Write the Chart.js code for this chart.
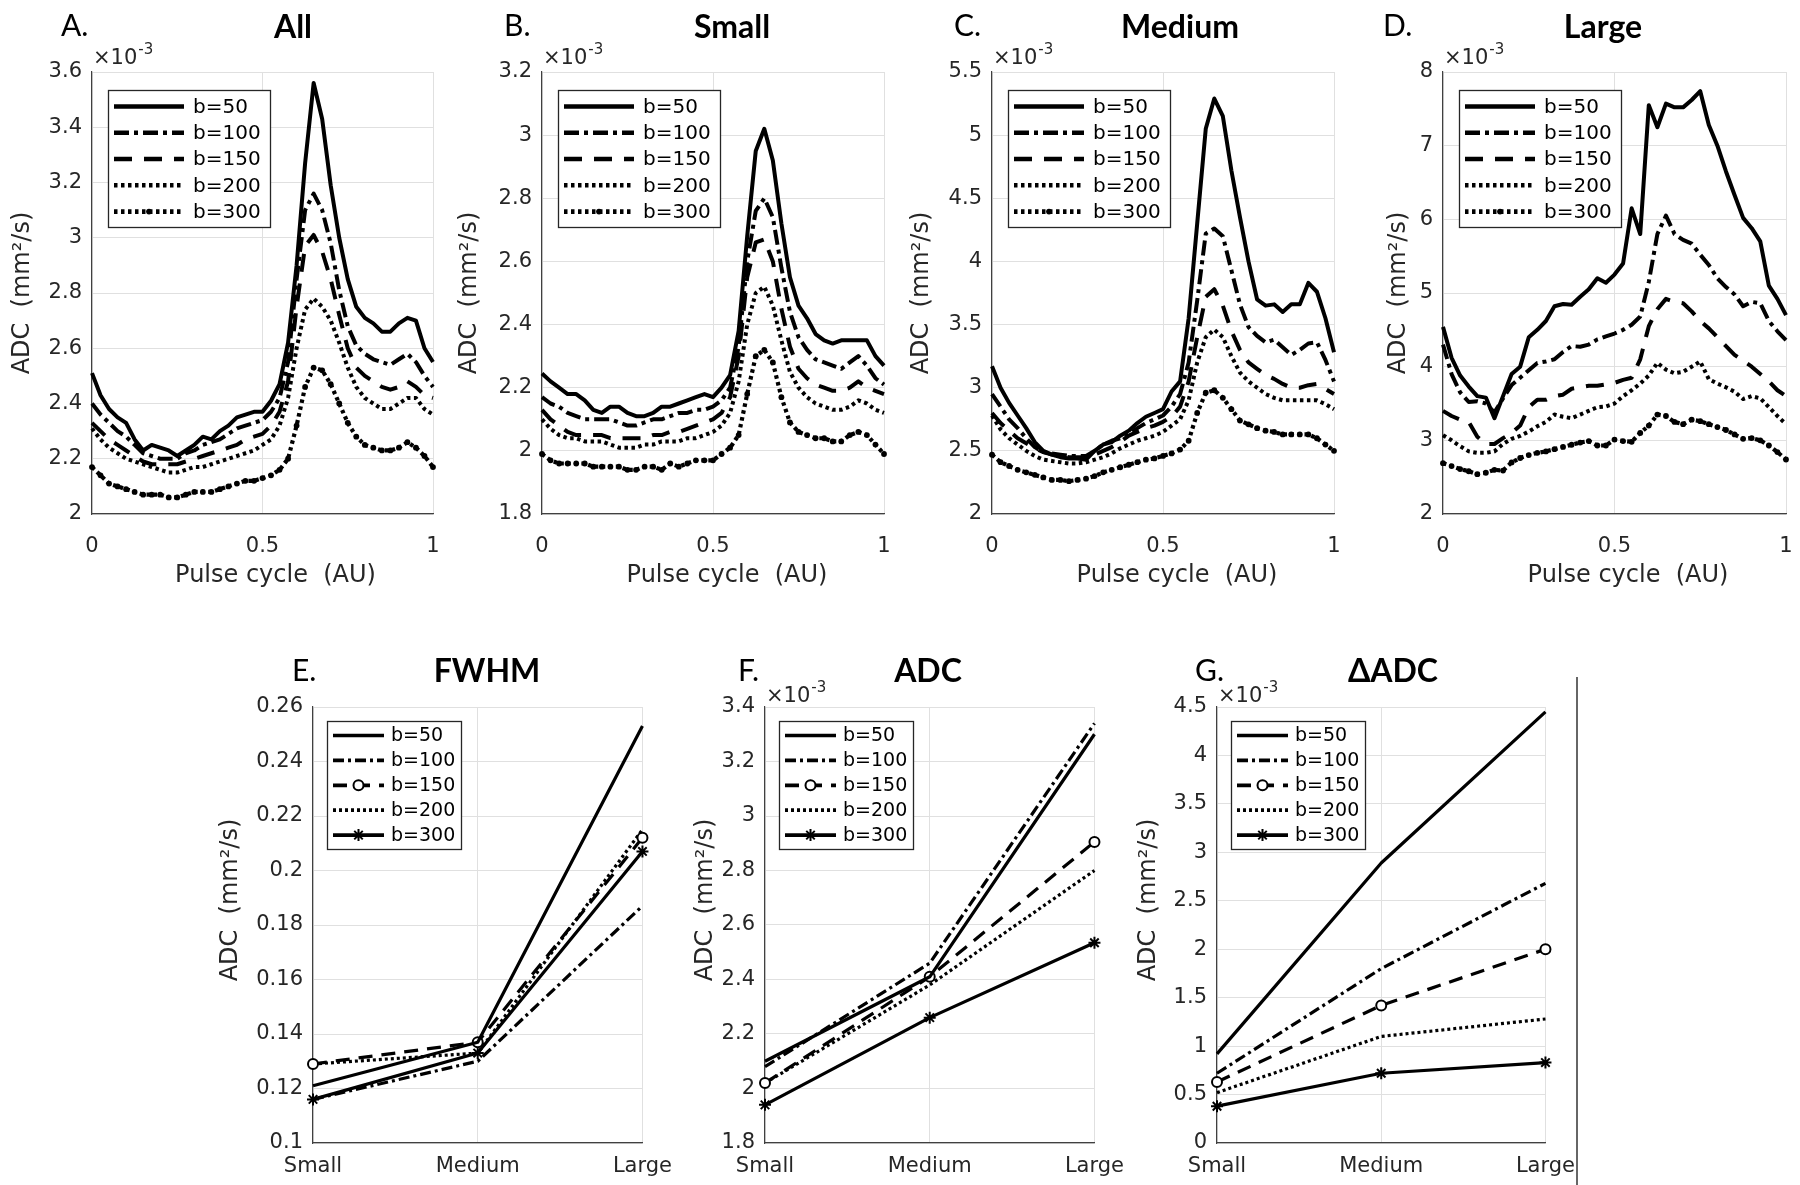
<!DOCTYPE html>
<html><head><meta charset="utf-8">
<script src="https://cdn.jsdelivr.net/npm/chart.js@4.4.1/dist/chart.umd.min.js"></script>
<style>
html,body{margin:0;padding:0;background:#fff;}
body{width:1800px;height:1185px;overflow:hidden;position:relative;}
canvas{position:absolute;}
</style></head><body>
<canvas id="cA"></canvas><canvas id="cB"></canvas><canvas id="cC"></canvas><canvas id="cD"></canvas>
<canvas id="cE"></canvas><canvas id="cF"></canvas><canvas id="cG"></canvas>
<script>
// ---------------- DATA ----------------
const bLabels = ['b=50','b=100','b=150','b=200','b=300'];
const pulse = [0,0.025,0.05,0.075,0.1,0.125,0.15,0.175,0.2,0.225,0.25,0.275,0.3,0.325,0.35,0.375,0.4,0.425,0.45,0.475,0.5,0.525,0.55,0.575,0.6,0.625,0.65,0.675,0.7,0.725,0.75,0.775,0.8,0.825,0.85,0.875,0.9,0.925,0.95,0.975,1];
const sizeCats = ['Small','Medium','Large'];

// Panel A: All (x10^-3 mm^2/s)
const all_b50  = [2.51,2.43,2.38,2.35,2.33,2.27,2.23,2.25,2.24,2.23,2.21,2.23,2.25,2.28,2.27,2.30,2.32,2.35,2.36,2.37,2.37,2.41,2.47,2.62,2.90,3.27,3.56,3.43,3.19,3.00,2.85,2.75,2.71,2.69,2.66,2.66,2.69,2.71,2.70,2.60,2.55];
const all_b100 = [2.40,2.36,2.33,2.30,2.28,2.25,2.22,2.21,2.20,2.20,2.20,2.22,2.23,2.25,2.26,2.27,2.29,2.31,2.32,2.33,2.34,2.37,2.42,2.55,2.85,3.10,3.16,3.10,2.98,2.81,2.68,2.61,2.58,2.56,2.55,2.54,2.56,2.58,2.55,2.50,2.46];
const all_b150 = [2.33,2.30,2.27,2.25,2.23,2.21,2.19,2.18,2.18,2.18,2.18,2.19,2.20,2.21,2.22,2.23,2.24,2.25,2.27,2.28,2.29,2.32,2.37,2.48,2.75,2.97,3.01,2.95,2.85,2.72,2.60,2.53,2.50,2.48,2.46,2.45,2.46,2.48,2.46,2.43,2.42];
const all_b200 = [2.31,2.27,2.24,2.22,2.20,2.19,2.18,2.17,2.16,2.15,2.15,2.16,2.17,2.17,2.18,2.19,2.20,2.21,2.22,2.23,2.25,2.27,2.32,2.42,2.60,2.74,2.78,2.75,2.70,2.62,2.53,2.46,2.42,2.40,2.38,2.38,2.40,2.42,2.42,2.38,2.36];
const all_b300 = [2.17,2.14,2.11,2.10,2.09,2.08,2.07,2.07,2.07,2.06,2.06,2.07,2.08,2.08,2.08,2.09,2.10,2.11,2.12,2.12,2.13,2.14,2.16,2.20,2.32,2.46,2.53,2.52,2.47,2.40,2.33,2.28,2.25,2.24,2.23,2.23,2.24,2.26,2.24,2.21,2.17];

// Panel B: Small
const small_b50  = [2.245,2.22,2.20,2.18,2.18,2.16,2.13,2.12,2.14,2.14,2.12,2.11,2.11,2.12,2.14,2.14,2.15,2.16,2.17,2.18,2.17,2.20,2.24,2.38,2.68,2.95,3.02,2.92,2.72,2.55,2.46,2.42,2.37,2.35,2.34,2.35,2.35,2.35,2.35,2.30,2.27];
const small_b100 = [2.17,2.15,2.14,2.12,2.11,2.10,2.10,2.10,2.10,2.09,2.08,2.08,2.09,2.10,2.10,2.11,2.12,2.12,2.13,2.13,2.14,2.16,2.20,2.33,2.60,2.76,2.80,2.74,2.58,2.44,2.36,2.32,2.29,2.28,2.27,2.26,2.28,2.30,2.27,2.23,2.21];
const small_b150 = [2.13,2.10,2.08,2.06,2.05,2.05,2.05,2.05,2.04,2.04,2.04,2.04,2.04,2.05,2.05,2.06,2.06,2.07,2.08,2.09,2.10,2.12,2.17,2.30,2.55,2.66,2.67,2.60,2.45,2.33,2.26,2.23,2.21,2.20,2.19,2.19,2.20,2.22,2.20,2.19,2.18];
const small_b200 = [2.10,2.07,2.05,2.04,2.04,2.03,2.03,2.03,2.02,2.01,2.01,2.01,2.02,2.02,2.03,2.03,2.03,2.04,2.04,2.05,2.06,2.08,2.12,2.22,2.40,2.50,2.52,2.46,2.35,2.25,2.20,2.17,2.15,2.14,2.13,2.13,2.14,2.16,2.15,2.13,2.12];
const small_b300 = [1.99,1.97,1.96,1.96,1.96,1.96,1.95,1.95,1.95,1.95,1.94,1.94,1.95,1.95,1.94,1.96,1.95,1.96,1.97,1.97,1.97,1.99,2.01,2.05,2.18,2.30,2.32,2.28,2.17,2.09,2.06,2.05,2.04,2.04,2.03,2.03,2.05,2.06,2.05,2.02,1.99];

// Panel C: Medium
const medium_b50  = [3.17,3.00,2.88,2.78,2.68,2.57,2.50,2.47,2.45,2.44,2.44,2.43,2.50,2.55,2.57,2.62,2.66,2.72,2.77,2.80,2.83,2.97,3.05,3.55,4.30,5.05,5.29,5.15,4.72,4.35,4.00,3.70,3.65,3.66,3.60,3.66,3.66,3.83,3.76,3.55,3.28];
const medium_b100 = [2.95,2.85,2.75,2.68,2.60,2.53,2.49,2.48,2.47,2.46,2.46,2.46,2.50,2.55,2.58,2.60,2.63,2.68,2.72,2.75,2.78,2.85,2.95,3.20,3.69,4.22,4.26,4.20,3.93,3.66,3.48,3.41,3.36,3.38,3.32,3.26,3.30,3.35,3.36,3.22,3.05];
const medium_b150 = [2.80,2.72,2.66,2.60,2.56,2.52,2.49,2.47,2.46,2.45,2.45,2.45,2.47,2.50,2.53,2.57,2.62,2.65,2.68,2.70,2.73,2.77,2.85,3.05,3.40,3.72,3.78,3.65,3.45,3.30,3.20,3.15,3.10,3.07,3.03,3.00,3.00,3.02,3.03,2.99,2.95];
const medium_b200 = [2.78,2.67,2.60,2.55,2.50,2.46,2.43,2.42,2.41,2.40,2.40,2.41,2.43,2.45,2.48,2.52,2.55,2.58,2.60,2.62,2.65,2.70,2.75,2.90,3.20,3.40,3.46,3.40,3.25,3.12,3.05,3.00,2.95,2.92,2.90,2.90,2.90,2.90,2.90,2.87,2.83];
const medium_b300 = [2.47,2.41,2.38,2.35,2.33,2.31,2.29,2.27,2.27,2.26,2.27,2.28,2.30,2.33,2.35,2.37,2.39,2.41,2.43,2.44,2.46,2.48,2.51,2.58,2.80,2.96,2.98,2.92,2.83,2.74,2.71,2.68,2.66,2.65,2.63,2.63,2.63,2.63,2.60,2.55,2.50];

// Panel D: Large
const large_b50  = [4.54,4.12,3.88,3.73,3.60,3.58,3.30,3.60,3.90,4.00,4.40,4.50,4.62,4.82,4.85,4.84,4.95,5.05,5.20,5.14,5.25,5.40,6.15,5.80,7.55,7.25,7.57,7.52,7.52,7.62,7.74,7.28,7.00,6.65,6.33,6.02,5.88,5.70,5.10,4.92,4.70];
const large_b100 = [4.30,3.90,3.65,3.52,3.53,3.50,3.38,3.57,3.75,3.85,3.95,4.05,4.07,4.10,4.20,4.28,4.27,4.30,4.37,4.41,4.45,4.50,4.57,4.68,5.15,5.80,6.05,5.80,5.72,5.67,5.52,5.38,5.20,5.08,4.98,4.82,4.88,4.86,4.62,4.48,4.36];
const large_b150 = [3.40,3.33,3.28,3.25,3.05,2.95,2.95,3.03,3.10,3.20,3.45,3.55,3.55,3.60,3.62,3.70,3.72,3.74,3.74,3.76,3.78,3.82,3.85,4.10,4.55,4.78,4.92,4.88,4.86,4.75,4.62,4.52,4.40,4.28,4.16,4.08,4.00,3.90,3.80,3.68,3.60];
const large_b200 = [3.07,3.00,2.92,2.85,2.83,2.83,2.85,2.95,3.02,3.06,3.12,3.19,3.25,3.35,3.32,3.30,3.35,3.40,3.45,3.46,3.50,3.60,3.68,3.77,3.88,4.05,3.96,3.91,3.93,4.00,4.07,3.83,3.77,3.72,3.66,3.56,3.60,3.57,3.45,3.33,3.22];
const large_b300 = [2.69,2.65,2.61,2.58,2.54,2.56,2.60,2.59,2.70,2.76,2.80,2.83,2.85,2.88,2.91,2.94,2.97,2.99,2.93,2.93,3.01,2.99,2.98,3.10,3.20,3.35,3.33,3.25,3.22,3.28,3.26,3.22,3.18,3.14,3.08,3.02,3.03,3.00,2.93,2.84,2.74];

// Panel E: FWHM (Small, Medium, Large)
const fwhm_b50  = [0.121,0.137,0.253];
const fwhm_b100 = [0.116,0.130,0.187];
const fwhm_b150 = [0.129,0.137,0.212];
const fwhm_b200 = [0.129,0.133,0.215];
const fwhm_b300 = [0.116,0.133,0.207];

// Panel F: ADC (x10^-3)
const adc_b50  = [2.10,2.41,3.30];
const adc_b100 = [2.08,2.46,3.34];
const adc_b150 = [2.02,2.41,2.905];
const adc_b200 = [2.02,2.38,2.80];
const adc_b300 = [1.94,2.26,2.535];

// Panel G: delta ADC (x10^-3)
const dadc_b50  = [0.92,2.89,4.45];
const dadc_b100 = [0.72,1.80,2.68];
const dadc_b150 = [0.63,1.42,2.00];
const dadc_b200 = [0.52,1.10,1.28];
const dadc_b300 = [0.38,0.72,0.83];

// Tick values
const xTicksPulse  = [0,0.5,1];
const yTicksAll    = [2,2.2,2.4,2.6,2.8,3,3.2,3.4,3.6];
const yTicksSmall  = [1.8,2,2.2,2.4,2.6,2.8,3,3.2];
const yTicksMedium = [2,2.5,3,3.5,4,4.5,5,5.5];
const yTicksLarge  = [2,3,4,5,6,7,8];
const yTicksFwhm   = [0.1,0.12,0.14,0.16,0.18,0.2,0.22,0.24,0.26];
const yTicksAdc    = [1.8,2,2.2,2.4,2.6,2.8,3,3.2,3.4];
const yTicksDelta  = [0,0.5,1,1.5,2,2.5,3,3.5,4,4.5];

// ---------------- STYLES / LAYOUT ----------------
const STYLE_TOP = [
  {dash:[], w:4},
  {dash:[15,5,4,5], w:4},
  {dash:[18,12], w:4},
  {dash:[3.5,3.5], w:4},
  {dash:[3.5,3.5], w:4.2, point:'dot', r:2.9}
];
const STYLE_BOT = [
  {dash:[], w:3.2},
  {dash:[11,4,3,4], w:3.2},
  {dash:[14,9], w:3.2, point:'circle', r:5},
  {dash:[3,3], w:3.2},
  {dash:[], w:3.2, point:'star', r:6}
];
const LEG_TOP = {dx:16, dy:18, w:162, h:137, row0:16.4, rowH:26.3, l0:6, l1:76, tx:85, font:'20px "DejaVu Sans"'};
const LEG_BOT = {dx:14, dy:14, w:134, h:128, row0:14.5, rowH:24.9, l0:6, l1:57, tx:64, font:'19px "DejaVu Sans"'};

const PAD_L = 100, PAD_T = 80, PAD_B = 90;
const TICK_FONT = {family:'DejaVu Sans', size:21};
const TEXT_COL = '#262626';
const GRID_COL = '#e0e0e0';

const PANELS = [
 {id:'cA', L:92, T:72, R:433, B:514, pr:30, letter:'A.', lx:61, ly:36, title:'All', tx:293, ty:38, ylx:22.5, yly:293, xlx:275.5, xly:582, exp:true, expGap:8, top:true,
  series:[all_b50,all_b100,all_b150,all_b200,all_b300], yt:yTicksAll},
 {id:'cB', L:542, T:72, R:884, B:514, pr:30, letter:'B.', lx:504, ly:36, title:'Small', tx:732, ty:38, ylx:469.5, yly:293, xlx:727, xly:582, exp:true, expGap:8, top:true,
  series:[small_b50,small_b100,small_b150,small_b200,small_b300], yt:yTicksSmall},
 {id:'cC', L:992, T:72, R:1334, B:514, pr:30, letter:'C.', lx:954, ly:36, title:'Medium', tx:1180, ty:38, ylx:922, yly:293, xlx:1177, xly:582, exp:true, expGap:8, top:true,
  series:[medium_b50,medium_b100,medium_b150,medium_b200,medium_b300], yt:yTicksMedium},
 {id:'cD', L:1443, T:72, R:1786, B:514, pr:30, letter:'D.', lx:1383, ly:36, title:'Large', tx:1603, ty:38, ylx:1399, yly:293, xlx:1628, xly:582, exp:true, expGap:8, top:true,
  series:[large_b50,large_b100,large_b150,large_b200,large_b300], yt:yTicksLarge},
 {id:'cE', L:313, T:707, R:643, B:1143, pr:40, letter:'E.', lx:292, ly:681, title:'FWHM', tx:487, ty:682, ylx:230.5, yly:900, exp:false, top:false,
  series:[fwhm_b50,fwhm_b100,fwhm_b150,fwhm_b200,fwhm_b300], yt:yTicksFwhm},
 {id:'cF', L:765, T:707, R:1095, B:1143, pr:40, letter:'F.', lx:738, ly:681, title:'ADC', tx:928, ty:682, ylx:705.5, yly:900, exp:true, expGap:5, top:false,
  series:[adc_b50,adc_b100,adc_b150,adc_b200,adc_b300], yt:yTicksAdc},
 {id:'cG', L:1217, T:707, R:1546, B:1143, pr:40, letter:'G.', lx:1195, ly:681, title:'\u0394ADC', tx:1393, ty:682, ylx:1149, yly:900, exp:true, expGap:5, top:false, vline:true,
  series:[dadc_b50,dadc_b100,dadc_b150,dadc_b200,dadc_b300], yt:yTicksDelta}
];
const PANEL_BY_ID = {};

function fmt(v){ return String(+Number(v).toFixed(4)); }

function drawMarker(ctx, kind, x, y, r){
  ctx.save();
  ctx.setLineDash([]);
  if (kind === 'dot'){
    ctx.fillStyle = '#000'; ctx.beginPath(); ctx.arc(x, y, r, 0, Math.PI*2); ctx.fill();
  } else if (kind === 'circle'){
    ctx.fillStyle = '#fff'; ctx.strokeStyle = '#000'; ctx.lineWidth = 2;
    ctx.beginPath(); ctx.arc(x, y, r, 0, Math.PI*2); ctx.fill(); ctx.stroke();
  } else if (kind === 'star'){
    ctx.strokeStyle = '#000'; ctx.lineWidth = 2; ctx.beginPath();
    for (let k=0;k<4;k++){ const a = k*Math.PI/4; ctx.moveTo(x-r*Math.cos(a), y-r*Math.sin(a)); ctx.lineTo(x+r*Math.cos(a), y+r*Math.sin(a)); }
    ctx.stroke();
  }
  ctx.restore();
}

const decoPlugin = {
  id:'deco',
  afterDraw(chart){
    const p = PANEL_BY_ID[chart.canvas.id];
    if (!p) return;
    const ctx = chart.ctx, ca = chart.chartArea;
    const ox = p.cx, oy = p.cy;
    ctx.save();
    ctx.textBaseline = 'alphabetic';
    ctx.fillStyle = '#000';
    ctx.font = '30px Lato, "Open Sans", sans-serif';
    ctx.textAlign = 'left';
    ctx.fillText(p.letter, p.lx - ox, p.ly - oy);
    ctx.font = 'bold 32px Lato, "Open Sans", sans-serif';
    ctx.textAlign = 'center';
    ctx.fillText(p.title, p.tx - ox, p.ty - oy);
    ctx.fillStyle = TEXT_COL;
    if (p.exp){
      ctx.textAlign = 'left';
      ctx.font = '21px "DejaVu Sans"';
      const ex = ca.left + 1, ey = ca.top - p.expGap;
      ctx.fillText('\u00d710', ex, ey);
      const w = ctx.measureText('\u00d710').width;
      ctx.font = '15px "DejaVu Sans"';
      ctx.fillText('-3', ex + w + 1, ey - 10);
    }
    ctx.save();
    ctx.translate(p.ylx - ox, p.yly - oy);
    ctx.rotate(-Math.PI/2);
    ctx.font = '24px "DejaVu Sans"';
    ctx.textAlign = 'center'; ctx.textBaseline = 'middle';
    ctx.fillText('ADC  (mm\u00b2/s)', 0, 0);
    ctx.restore();
    if (p.xlx){
      ctx.font = '24px "DejaVu Sans"';
      ctx.textAlign = 'center'; ctx.textBaseline = 'alphabetic';
      ctx.fillText('Pulse cycle  (AU)', p.xlx - ox, p.xly - oy);
    }
    const L = p.top ? LEG_TOP : LEG_BOT;
    const S = p.top ? STYLE_TOP : STYLE_BOT;
    const bx = ca.left + L.dx, by = ca.top + L.dy;
    ctx.setLineDash([]);
    ctx.fillStyle = '#fff';
    ctx.fillRect(bx, by, L.w, L.h);
    ctx.strokeStyle = '#262626'; ctx.lineWidth = 1.3;
    ctx.strokeRect(bx + 0.5, by + 0.5, L.w, L.h);
    bLabels.forEach((lab, i) => {
      const s = S[i];
      const y = by + L.row0 + i * L.rowH;
      ctx.save();
      ctx.strokeStyle = '#000'; ctx.lineWidth = s.w + 0.5; ctx.lineCap = 'butt';
      ctx.setLineDash(s.dash);
      ctx.beginPath(); ctx.moveTo(bx + L.l0, y); ctx.lineTo(bx + L.l1, y); ctx.stroke();
      ctx.restore();
      if (s.point) drawMarker(ctx, s.point, bx + (L.l0 + L.l1)/2, y, s.r);
      ctx.fillStyle = '#000';
      ctx.font = L.font; ctx.textAlign = 'left'; ctx.textBaseline = 'middle';
      ctx.fillText(lab, bx + L.tx, y + 1);
    });
    if (p.vline){
      ctx.strokeStyle = '#333'; ctx.lineWidth = 1.5; ctx.setLineDash([]);
      ctx.beginPath(); ctx.moveTo(1577 - ox, 677 - oy); ctx.lineTo(1577 - ox, 1185 - oy); ctx.stroke();
    }
    ctx.restore();
  }
};

function build(){
  PANELS.forEach(p => {
    PANEL_BY_ID[p.id] = p;
    p.cx = p.L - PAD_L; p.cy = p.T - PAD_T;
    const cw = p.R - p.cx + p.pr, ch = p.B - p.cy + PAD_B;
    const cv = document.getElementById(p.id);
    cv.width = cw; cv.height = ch;
    cv.style.left = p.cx + 'px'; cv.style.top = p.cy + 'px';
    cv.style.width = cw + 'px'; cv.style.height = ch + 'px';
    const S = p.top ? STYLE_TOP : STYLE_BOT;
    const datasets = p.series.map((arr, i) => {
      const s = S[i];
      return {
        label: bLabels[i],
        data: p.top ? pulse.map((x, j) => ({x: x, y: arr[j]})) : arr,
        borderColor: '#000', backgroundColor: '#000',
        borderWidth: s.w, borderDash: s.dash, tension: 0, fill: false, clip: false,
        borderJoinStyle: 'round',
        pointRadius: s.point ? s.r : 0,
        pointStyle: s.point === 'star' ? 'star' : 'circle',
        pointBackgroundColor: s.point === 'circle' ? '#fff' : '#000',
        pointBorderColor: '#000',
        pointBorderWidth: s.point === 'dot' ? 0 : 2
      };
    });
    const yt = p.yt;
    const xScale = p.top ? {
      type:'linear', min:0, max:1,
      afterBuildTicks: s => { s.ticks = xTicksPulse.map(v => ({value:v})); },
      ticks:{font:TICK_FONT, color:TEXT_COL, padding:20, maxRotation:0, callback: v => fmt(v)},
      grid:{color:GRID_COL, lineWidth:1, drawTicks:false},
      border:{color:'#404040', width:1.2},
      afterFit: s => { s.height = PAD_B; }
    } : {
      type:'category', offset:false,
      ticks:{font:TICK_FONT, color:TEXT_COL, padding:11, maxRotation:0, autoSkip:false},
      grid:{color:GRID_COL, lineWidth:1, drawTicks:false, offset:false},
      border:{color:'#404040', width:1.2},
      afterFit: s => { s.height = PAD_B; }
    };
    new Chart(cv, {
      type:'line',
      data:{ labels: p.top ? undefined : sizeCats, datasets },
      options:{
        responsive:false, animation:false, devicePixelRatio:1,
        layout:{padding:{left:0, top:PAD_T, right:p.pr, bottom:0}},
        plugins:{legend:{display:false}, tooltip:{enabled:false}, title:{display:false}},
        events:[],
        scales:{
          x: xScale,
          y:{
            type:'linear', min:yt[0], max:yt[yt.length-1],
            afterBuildTicks: s => { s.ticks = yt.map(v => ({value:v})); },
            ticks:{font:TICK_FONT, color:TEXT_COL, padding:10, callback: v => fmt(v)},
            grid:{color:GRID_COL, lineWidth:1, drawTicks:false},
            border:{color:'#404040', width:1.2},
            afterFit: s => { s.width = PAD_L; }
          }
        }
      },
      plugins:[decoPlugin]
    });
  });
}
const fontLoads = ['21px "DejaVu Sans"','24px "DejaVu Sans"','30px Lato','bold 32px Lato'].map(f => document.fonts.load(f).catch(()=>null));
Promise.all(fontLoads).then(build, build);
</script>
</body></html>
